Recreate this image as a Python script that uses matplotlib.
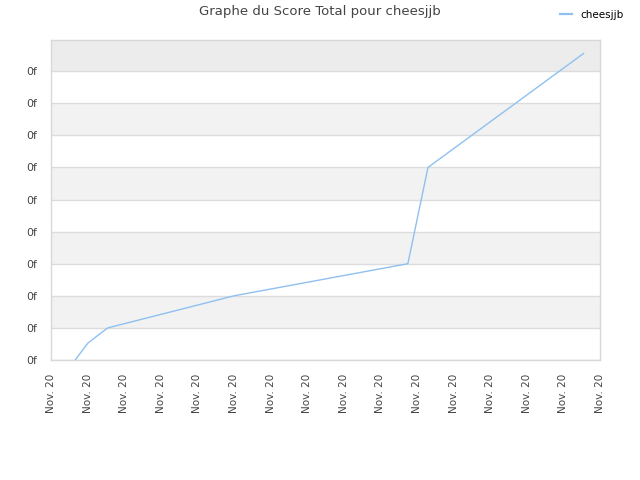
import matplotlib
matplotlib.use("Agg")
import matplotlib.pyplot as plt
from matplotlib.lines import Line2D

title = "Graphe du Score Total pour cheesjjb"
series_name = "cheesjjb"
x_vals = [0.66, 1.01, 1.55, 5.0, 9.75, 10.3, 14.55]
y_vals = [0.0, 0.53, 1.0, 2.0, 3.0, 6.0, 9.55]
x_ticks = list(range(16))
x_labels = ["Nov. 20"] * 16
y_ticks = list(range(10))
y_labels = ["0f"] * 10

fig = plt.figure(figsize=(6.4, 4.8), dpi=100)
ax = fig.add_axes([51/640, 120/480, 549/640, 320/480])
ymax = 9.97
ax.set_xlim(0, 15)
ax.set_ylim(0, ymax)

# alternating bands
for i in range(10):
    lo = i
    hi = min(i + 1, ymax)
    if i == 9:
        ax.axhspan(lo, hi, color="#ececec", zorder=0, lw=0)
    elif i % 2 == 1:
        ax.axhspan(lo, hi, color="#f2f2f2", zorder=0, lw=0)
for t in y_ticks:
    ax.axhline(t, color="#dcdcdc", lw=1, zorder=1)

ax.plot(x_vals, y_vals, color="#90c0f0", lw=1.0, zorder=3)

ax.set_xticks(x_ticks)
ax.set_xticklabels(x_labels, rotation=90, fontsize=7.5, color="#444444")
ax.set_yticks(y_ticks)
ax.set_yticklabels(y_labels, fontsize=7.8, color="#444444")
ax.tick_params(axis="x", length=0, pad=10)
ax.tick_params(axis="y", length=0, pad=10)
for s in ax.spines.values():
    s.set_color("#d8d8d8")
    s.set_linewidth(1)

fig.text(0.5, 1 - 12/480, title, ha="center", va="center", fontsize=9.5, color="#444444")
handle = Line2D([], [], color="#90c0f0", lw=1.6)
fig.legend([handle], [series_name], loc="center", bbox_to_anchor=(592/640, 1 - 15/480),
           frameon=False, fontsize=7.5, handlelength=1.2, handletextpad=0.8)

fig.savefig("out.png", dpi=100)
